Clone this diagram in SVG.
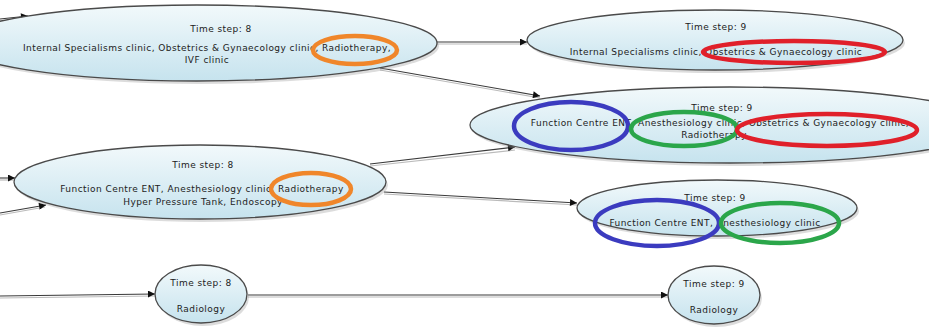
<svg xmlns="http://www.w3.org/2000/svg" width="929" height="327" viewBox="0 0 929 327">
<style>
.node{fill:url(#g);stroke:#4a4a4a;stroke-width:1.3}
.sh{fill:#9a9a9a;opacity:0.35}
.t{font-family:"DejaVu Sans",sans-serif;font-size:9px;letter-spacing:0.45px;fill:#222;text-anchor:middle}
.e{fill:none;stroke:#3a3a3a;stroke-width:1.1;marker-end:url(#a)}
.es{fill:none;stroke:#bbb;stroke-width:1.2}
.hl{fill:none;stroke-width:4.5}
</style>
<defs>
<linearGradient id="g" x1="0" y1="0" x2="0" y2="1">
<stop offset="0" stop-color="#f2f9fb"/>
<stop offset="1" stop-color="#c6e3ee"/>
</linearGradient>
<marker id="a" viewBox="0 0 10 10" refX="10" refY="5" markerWidth="9" markerHeight="7" markerUnits="userSpaceOnUse" orient="auto">
<path d="M0,0 L10,5 L0,10 z" fill="#111"/>
</marker>
</defs>
<rect width="929" height="327" fill="#fff"/>
<g id="connectors">
<path class="es" d="M0,21 L27,18"/>
<path class="e" d="M0,19 L28,16"/>
<path class="es" d="M437,44 L527,44"/>
<path class="e" d="M437,42 L527,42"/>
<path class="es" d="M380,70 L540,98"/>
<path class="e" d="M380,68 L540,96"/>
<path class="es" d="M370,166 L515,150"/>
<path class="e" d="M370,164 L515,147"/>
<path class="es" d="M384,194 L577,205"/>
<path class="e" d="M384,192 L577,203"/>
<path class="es" d="M0,180 L14,180"/>
<path class="e" d="M0,178 L15,178"/>
<path class="es" d="M0,215 L45,207"/>
<path class="e" d="M0,213 L46,205"/>
<path class="es" d="M0,298 L155,296"/>
<path class="e" d="M0,296 L155,294"/>
<path class="es" d="M248,297 L668,297"/>
<path class="e" d="M248,295 L668,295"/>
</g>
<g id="n8a">
<ellipse class="sh" cx="199" cy="46" rx="240" ry="38"/>
<ellipse class="node" cx="197" cy="43" rx="240" ry="38"/>
<text class="t" x="221" y="32">Time step: 8</text>
<text class="t" x="207" y="51">Internal Specialisms clinic, Obstetrics &amp; Gynaecology clinic, Radiotherapy,</text>
<text class="t" x="207" y="63">IVF clinic</text>
</g>
<g id="n9a">
<ellipse class="sh" cx="717" cy="43" rx="188" ry="30"/>
<ellipse class="node" cx="715" cy="40" rx="188" ry="30"/>
<text class="t" x="716" y="30">Time step: 9</text>
<text class="t" x="716" y="55">Internal Specialisms clinic, Obstetrics &amp; Gynaecology clinic</text>
</g>
<g id="n9b">
<ellipse class="sh" cx="732" cy="128" rx="260" ry="38"/>
<ellipse class="node" cx="730" cy="125" rx="260" ry="38"/>
<text class="t" x="722" y="111">Time step: 9</text>
<text class="t" x="720" y="126">Function Centre ENT, Anesthesiology clinic, Obstetrics &amp; Gynaecology clinic,</text>
<text class="t" x="714" y="138">Radiotherapy</text>
</g>
<g id="n8b">
<ellipse class="sh" cx="202" cy="185" rx="186" ry="37"/>
<ellipse class="node" cx="200" cy="182" rx="186" ry="37"/>
<text class="t" x="203" y="168">Time step: 8</text>
<text class="t" x="202" y="192">Function Centre ENT, Anesthesiology clinic, Radiotherapy</text>
<text class="t" x="203" y="205">Hyper Pressure Tank, Endoscopy</text>
</g>
<g id="n9c">
<ellipse class="sh" cx="719" cy="211" rx="140" ry="28"/>
<ellipse class="node" cx="717" cy="208" rx="140" ry="28"/>
<text class="t" x="715" y="201">Time step: 9</text>
<text class="t" x="715" y="226">Function Centre ENT, Anesthesiology clinic</text>
</g>
<g id="n8c">
<ellipse class="sh" cx="203" cy="297" rx="46" ry="29"/>
<ellipse class="node" cx="201" cy="294" rx="46" ry="29"/>
<text class="t" x="201" y="286">Time step: 8</text>
<text class="t" x="201" y="312">Radiology</text>
</g>
<g id="n9d">
<ellipse class="sh" cx="716" cy="298" rx="46" ry="29"/>
<ellipse class="node" cx="714" cy="295" rx="46" ry="29"/>
<text class="t" x="714" y="287">Time step: 9</text>
<text class="t" x="714" y="313">Radiology</text>
</g>
<g id="highlights">
<ellipse class="hl" stroke="#f0862a" cx="355" cy="50" rx="42" ry="14"/>
<ellipse class="hl" stroke="#f0862a" cx="311" cy="189" rx="40" ry="16"/>
<ellipse class="hl" stroke="#e0202a" cx="794" cy="52" rx="91" ry="11"/>
<ellipse class="hl" stroke="#3b3bbf" cx="571" cy="126" rx="57" ry="24"/>
<ellipse class="hl" stroke="#2ba64a" cx="684" cy="129" rx="53" ry="17"/>
<ellipse class="hl" stroke="#e0202a" cx="827" cy="130" rx="90" ry="16"/>
<ellipse class="hl" stroke="#3b3bbf" cx="657" cy="223" rx="62" ry="23"/>
<ellipse class="hl" stroke="#2ba64a" cx="780" cy="223" rx="59" ry="20"/>
</g>
</svg>
